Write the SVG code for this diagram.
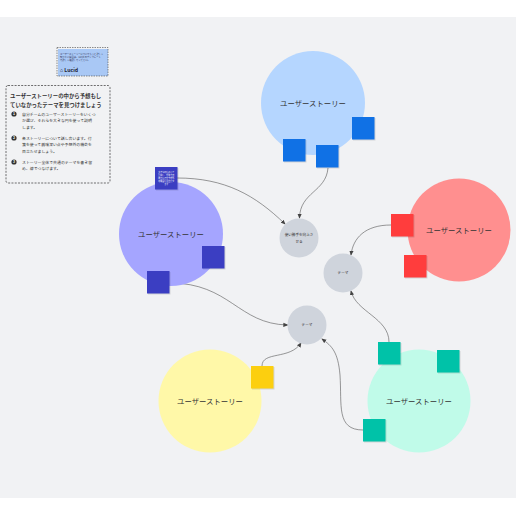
<svg xmlns="http://www.w3.org/2000/svg" width="516" height="516" viewBox="0 0 516 516">
<defs>
<style>
text{font-family:"Noto Sans CJK JP","Liberation Sans",sans-serif;fill:#333}
.lbl{font-size:7.4px;text-anchor:middle}
.th{font-size:3.6px;text-anchor:middle}
.sh{fill:#000;opacity:.12}
.cn{fill:none;stroke:#555;stroke-width:.6}
.it{font-size:3.9px}
.nm{font-size:3.4px;fill:#fff;text-anchor:middle;font-weight:bold}
.bt{font-size:2.3px;fill:#335}
.st{font-size:2px;fill:#fff;text-anchor:middle}
</style>
<marker id="ah" viewBox="0 0 6 6" refX="5" refY="3" markerWidth="5" markerHeight="5" orient="auto" markerUnits="userSpaceOnUse"><path d="M0,0.5 L6,3 L0,5.5z" fill="#444"/></marker>
</defs>
<rect x="0" y="0" width="516" height="516" fill="#fff"/>
<rect x="0" y="17" width="516" height="481" fill="#f1f2f4"/>

<g id="badge">
<rect x="58" y="49" width="50" height="27" fill="#a9c8f5"/>
<rect x="57" y="47.5" width="51" height="28.5" fill="none" stroke="#444" stroke-width=".6" stroke-dasharray="1.5,1"/>
<text x="60" y="55" class="bt">ユーザーストーリーについてもっと詳しく</text>
<text x="60" y="58.2" class="bt">知りたい場合は、Lucid のテンプレート</text>
<text x="60" y="61.4" class="bt">で詳しく確認してください。</text>
<text x="60" y="71.5" style="font-size:5.2px;font-weight:bold;fill:#223">⌂ Lucid</text>
</g>

<g id="instructions">
<rect x="6" y="85.5" width="104" height="97.5" rx="2" fill="none" stroke="#333" stroke-width=".7" stroke-dasharray="2,1.3"/>
<text x="10" y="98" style="font-size:5.4px;font-weight:bold">ユーザーストーリーの中から予想もし</text>
<text x="10" y="107" style="font-size:5.4px;font-weight:bold">ていなかったテーマを見つけましょう</text>
<circle cx="14" cy="114" r="2.6" fill="#333"/><text x="14" y="115.2" class="nm">1</text>
<text x="22" y="115.5" class="it">自分チームのユーザーストーリーをいくつ</text>
<text x="22" y="122" class="it">か選び、それらを大きな円を使って説明</text>
<text x="22" y="128.5" class="it">します。</text>
<circle cx="14" cy="138" r="2.6" fill="#333"/><text x="14" y="139.2" class="nm">2</text>
<text x="22" y="139.5" class="it">各ストーリーについて話し合います。付</text>
<text x="22" y="146" class="it">箋を使って興味深い点や予想外の機会を</text>
<text x="22" y="152.5" class="it">目立たせましょう。</text>
<circle cx="14" cy="162" r="2.6" fill="#333"/><text x="14" y="163.2" class="nm">3</text>
<text x="22" y="163.5" class="it">ストーリー全体で共通のテーマを書き留</text>
<text x="22" y="170" class="it">め、線でつなげます。</text>
</g>

<g id="connectors">
<path class="cn" d="M328,168 C326,192 300,192 299.5,218" marker-end="url(#ah)"/>
<path class="cn" d="M177,178 C225,178 255,195 285,224" marker-end="url(#ah)"/>
<path class="cn" d="M391,225 C365,225 353,238 351,255" marker-end="url(#ah)"/>
<path class="cn" d="M170,283 C230,283 238,324 287.5,325" marker-end="url(#ah)"/>
<path class="cn" d="M262,366 C262,351 290,360 301,343" marker-end="url(#ah)"/>
<path class="cn" d="M389,342 C389,318 356,312 351,291" marker-end="url(#ah)"/>
<path class="cn" d="M363,430 C336,430 342,405 340,375 C338,352 332,346 322,339" marker-end="url(#ah)"/>
</g>

<g id="story-blue">
<circle cx="313" cy="103" r="52" fill="#b5d6ff"/>
<text x="313" y="106" class="lbl">ユーザーストーリー</text>
<rect x="284" y="140" width="22.5" height="22.5" class="sh"/><rect x="283" y="139" width="22.5" height="22.5" fill="#1071e5"/>
<rect x="317" y="146" width="22.5" height="22.5" class="sh"/><rect x="316" y="145" width="22.5" height="22.5" fill="#1071e5"/>
<rect x="353" y="118" width="22.5" height="22.5" class="sh"/><rect x="352" y="117" width="22.5" height="22.5" fill="#1071e5"/>
</g>

<g id="story-purple">
<circle cx="171" cy="234" r="52" fill="#a5a5ff"/>
<text x="171" y="237" class="lbl">ユーザーストーリー</text>
<rect x="156" y="168" width="22.5" height="22.5" class="sh"/><rect x="155" y="167" width="22.5" height="22.5" fill="#3b3ec2"/>
<text x="166.2" y="172.5" class="st">大きな円を使って</text>
<text x="166.2" y="175.5" class="st">説明し、付箋で興</text>
<text x="166.2" y="178.5" class="st">味深い点や予想外</text>
<text x="166.2" y="181.5" class="st">の機会を目立たせ</text>
<text x="166.2" y="184.5" class="st">ます</text>
<rect x="203" y="247" width="22.5" height="22.5" class="sh"/><rect x="202" y="246" width="22.5" height="22.5" fill="#3b3ec2"/>
<rect x="148" y="272" width="22.5" height="22.5" class="sh"/><rect x="147" y="271" width="22.5" height="22.5" fill="#3b3ec2"/>
</g>

<g id="story-red">
<circle cx="459" cy="230" r="51.5" fill="#ff8f8f"/>
<text x="459" y="233" class="lbl">ユーザーストーリー</text>
<rect x="392" y="215" width="22.5" height="22.5" class="sh"/><rect x="391" y="214" width="22.5" height="22.5" fill="#ff3d3d"/>
<rect x="405" y="256" width="22.5" height="22.5" class="sh"/><rect x="404" y="255" width="22.5" height="22.5" fill="#ff3d3d"/>
</g>

<g id="story-yellow">
<circle cx="210" cy="401" r="51.5" fill="#fff8a8"/>
<text x="210" y="404" class="lbl">ユーザーストーリー</text>
<rect x="252" y="367" width="22.5" height="22.5" class="sh"/><rect x="251" y="366" width="22.5" height="22.5" fill="#fccf0f"/>
</g>

<g id="story-teal">
<circle cx="419" cy="401" r="51.5" fill="#c0fbe9"/>
<text x="419" y="404" class="lbl">ユーザーストーリー</text>
<rect x="379" y="343" width="22.5" height="22.5" class="sh"/><rect x="378" y="342" width="22.5" height="22.5" fill="#00c2a8"/>
<rect x="438" y="351" width="22.5" height="22.5" class="sh"/><rect x="437" y="350" width="22.5" height="22.5" fill="#00c2a8"/>
<rect x="364" y="420" width="22.5" height="22.5" class="sh"/><rect x="363" y="419" width="22.5" height="22.5" fill="#00c2a8"/>
</g>

<g id="theme-usability">
<circle cx="299" cy="238" r="19.5" fill="#cfd4dc"/>
<text x="299" y="235.5" class="th">使い勝手を向上さ</text>
<text x="299" y="243" class="th">せる</text>
</g>
<g id="theme-2">
<circle cx="343" cy="273" r="19.5" fill="#cfd4dc"/>
<text x="343" y="274.3" class="th">テーマ</text>
</g>
<g id="theme-3">
<circle cx="307" cy="325" r="19.5" fill="#cfd4dc"/>
<text x="307" y="326.3" class="th">テーマ</text>
</g>
</svg>
